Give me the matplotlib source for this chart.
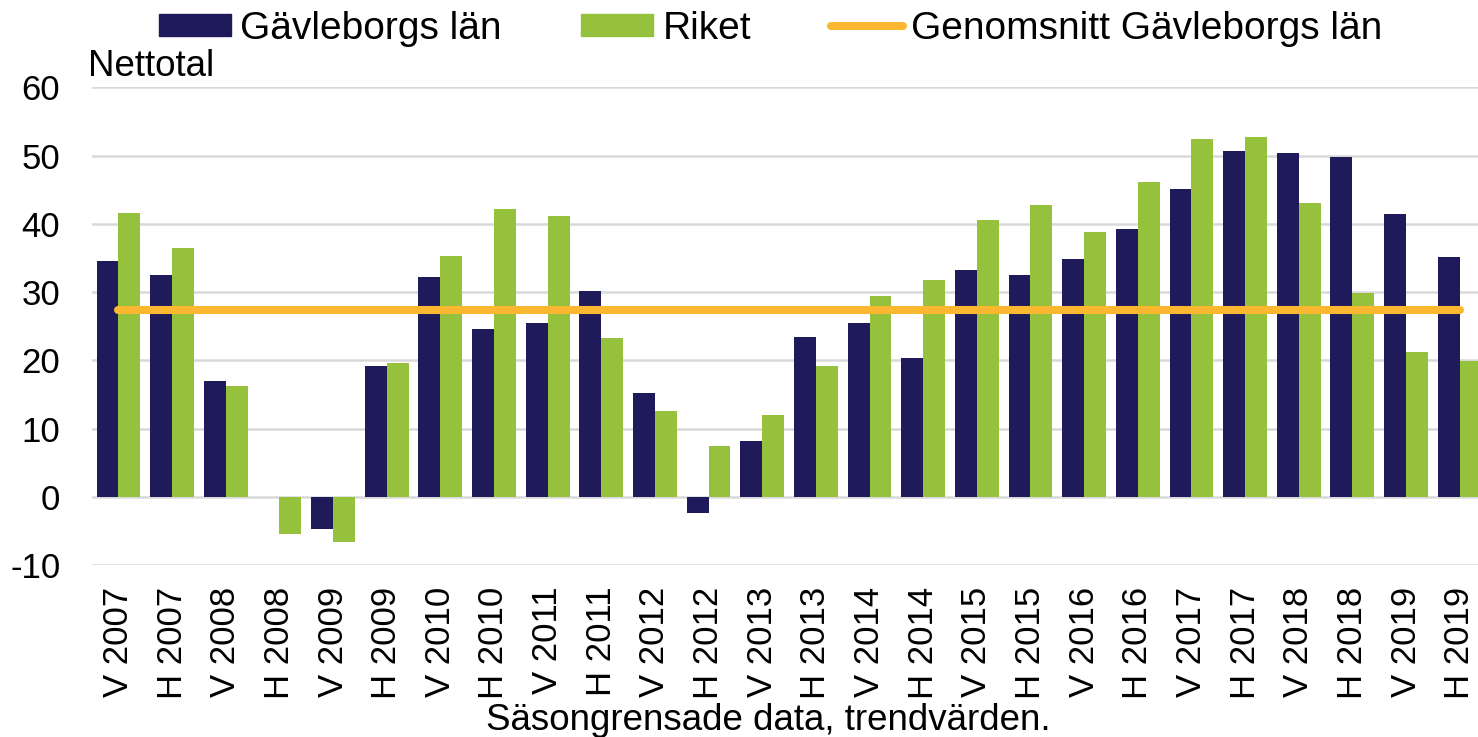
import numpy as np
import matplotlib
matplotlib.use("Agg")
from matplotlib import pyplot as plt
from matplotlib.lines import Line2D
from matplotlib.patches import Patch

# kategorier: vår (V) och höst (H)
periods = ["V 2007", "H 2007", "V 2008", "H 2008", "V 2009", "H 2009",
           "V 2010", "H 2010", "V 2011", "H 2011", "V 2012", "H 2012",
           "V 2013", "H 2013", "V 2014", "H 2014", "V 2015", "H 2015",
           "V 2016", "H 2016", "V 2017", "H 2017", "V 2018", "H 2018",
           "V 2019", "H 2019"]

gavleborg = [34.6, 32.5, 17.0, 0.0, -4.7, 19.2, 32.2, 24.6, 25.4, 30.2,
             15.2, -2.4, 8.1, 23.4, 25.4, 20.4, 33.3, 32.5, 34.8, 39.3,
             45.1, 50.7, 50.3, 49.8, 41.4, 35.1]

riket = [41.6, 36.4, 16.2, -5.5, -6.6, 19.6, 35.3, 42.2, 41.2, 23.3,
         12.6, 7.5, 12.0, 19.2, 29.4, 31.7, 40.6, 42.7, 38.8, 46.1,
         52.4, 52.7, 43.0, 29.9, 21.2, 19.9]

genomsnitt = 27.4

yticks = [-10, 0, 10, 20, 30, 40, 50, 60]

NAVY = "#1f1a5a"
GREEN = "#95c13d"
ORANGE = "#fbb730"
GRID = "#d9d9d9"

plt.rcParams["font.family"] = ["Liberation Sans", "DejaVu Sans"]

W, H = 1478, 737
fig = plt.figure(figsize=(W / 100, H / 100), dpi=100)
ax = fig.add_axes([91.6 / W, 1 - 565 / H, 26 * 53.65 / W, (565 - 87.3) / H])

x = np.arange(len(periods))
bw = 0.408
ax.bar(x - bw / 2, gavleborg, bw, color=NAVY, zorder=3)
ax.bar(x + bw / 2, riket, bw, color=GREEN, zorder=3)
ax.plot([x[0], x[-1]], [genomsnitt, genomsnitt], color=ORANGE, lw=5.8,
        solid_capstyle="round", zorder=4)

ax.set_xlim(-0.5, len(periods) - 0.5)
ax.set_ylim(-10, 60)
ax.set_yticks(yticks)
ax.set_yticklabels([str(v) for v in yticks])
ax.set_xticks(x)
ax.set_xticklabels(periods, rotation=90)
ax.tick_params(axis="y", length=0, pad=22.5, labelsize=25)
ax.tick_params(axis="x", length=0, pad=15.5, labelsize=25)
ax.grid(axis="y", color=GRID, lw=1.8, zorder=0)
for s in ax.spines.values():
    s.set_visible(False)

handles = [Patch(color=NAVY), Patch(color=GREEN),
           Line2D([0], [0], color=ORANGE, lw=5.8, solid_capstyle="round")]
labels = ["Gävleborgs län", "Riket", "Genomsnitt Gävleborgs län"]
fig.legend(handles, labels, ncol=3, loc="center", frameon=False,
           bbox_to_anchor=(771 / W, 1 - 29 / H), fontsize=28,
           handlelength=1.85, handleheight=0.51, handletextpad=0.23,
           columnspacing=2.05, borderpad=0, borderaxespad=0)

fig.text(88 / W, 1 - 76 / H, "Nettotal", fontsize=26.5, va="baseline")
fig.text(768 / W, 1 - 729.5 / H, "Säsongrensade data, trendvärden.",
         fontsize=26.5, ha="center", va="baseline")

fig.savefig("out.png", dpi=100)
